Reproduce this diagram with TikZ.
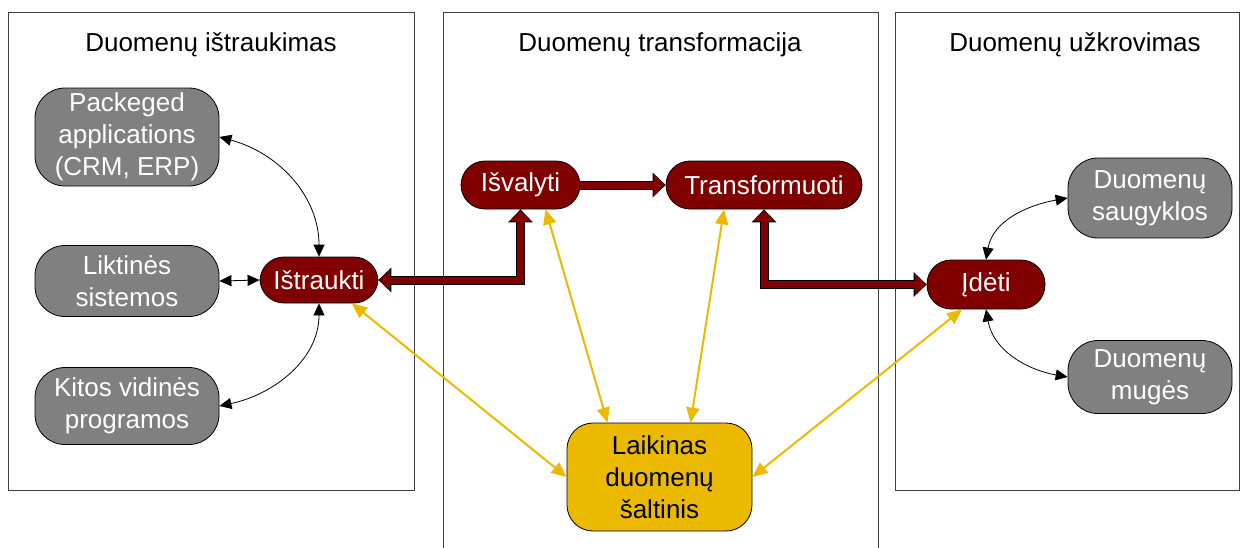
\documentclass[tikz,border=0pt]{standalone}
\usepackage{fontspec}
\setmainfont{Liberation Sans}
\usetikzlibrary{arrows.meta}
\definecolor{boxgray}{HTML}{808080}
\definecolor{maroonbox}{HTML}{800000}
\definecolor{ambertone}{HTML}{EBBA00}
\definecolor{panelline}{HTML}{404040}
\begin{document}
\begin{tikzpicture}[x=1pt,y=-1pt,
  txt/.style={font=\fontsize{26pt}{32pt}\selectfont, align=center, inner sep=0pt},
  panel/.style={draw=panelline, line width=1pt},
  source/.style={txt, draw=black, line width=0.8pt, fill=boxgray, text=white, rounded corners=30pt},
  stage/.style={txt, draw=black, line width=0.8pt, fill=maroonbox, text=white, rounded corners=24pt},
  stagebox/.style={txt, draw=black, line width=0.8pt, fill=ambertone, text=black, rounded corners=26pt},
  thin/.style={line width=0.8pt, {Triangle[width=11pt,length=12pt]}-{Triangle[width=11pt,length=12pt]}},
  amber/.style={draw=ambertone, line width=2pt, {Triangle[width=13pt,length=15pt]}-{Triangle[width=13pt,length=15pt]}},
  barout/.style={draw=black, line width=9pt, miter limit=10,
    {Triangle[width=25pt,length=13pt,line width=0pt]}-{Triangle[width=25pt,length=13pt,line width=0pt]}},
  barin/.style={draw=maroonbox, line width=7pt, miter limit=10, shorten >=1.3pt, shorten <=1.3pt,
    {Triangle[width=21pt,length=10.3pt,line width=0pt]}-{Triangle[width=21pt,length=10.3pt,line width=0pt]}},
  barouto/.style={draw=black, line width=9pt, -{Triangle[width=25pt,length=13pt,line width=0pt]}},
  barino/.style={draw=maroonbox, line width=7pt, shorten >=1.3pt, -{Triangle[width=21pt,length=10.3pt,line width=0pt]}},
]
\useasboundingbox (0,0) rectangle (1246,547);

% the three stage panels
\draw[panel] (8,12) rectangle (414,490);
\draw[panel] (443,560) -- (443,12) -- (878,12) -- (878,560);
\draw[panel] (895,12) rectangle (1239,490);

\node[txt] (t1) at (211,45) {Duomenų ištraukimas};
\node[txt] (t2) at (660,45) {Duomenų transformacija};
\node[txt] (t3) at (1075,45) {Duomenų užkrovimas};

% sources
\node[source, minimum width=184pt, minimum height=98pt] (pk) at (127,137) {Packeged\\applications\\(CRM, ERP)};
\node[source, minimum width=184pt, minimum height=71pt] (lt) at (127,281) {Liktinės\\sistemos};
\node[source, minimum width=184pt, minimum height=77pt] (kt) at (127,406) {Kitos vidinės\\programos};

% targets
\node[source, minimum width=164pt, minimum height=80pt] (sg) at (1150,198) {Duomenų\\saugyklos};
\node[source, minimum width=164pt, minimum height=73pt] (mg) at (1150,377) {Duomenų\\mugės};

% process steps
\node[stage, minimum width=118pt, minimum height=46pt] (ist) at (319,280) {Ištraukti};
\node[stage, minimum width=119pt, minimum height=48pt] (isv) at (520.5,185) {Išvalyti};
\node[stage, minimum width=196pt, minimum height=48pt] (tr) at (764,185) {Transformuoti};
\node[stage, minimum width=118pt, minimum height=49pt] (idt) at (986,284.5) {Įdėti};

% staging area
\node[stagebox, minimum width=185pt, minimum height=108pt] (lk) at (659.5,477) {Laikinas\\duomenų\\šaltinis};

% thin connectors
\draw[thin] (pk.east) to[out=-15, in=90] (ist.north);
\draw[thin] (lt.east) -- (ist.west);
\draw[thin] (kt.east) to[out=12, in=-90] (ist.south);
\draw[thin] (idt.north) to[out=80, in=190] (sg.west);
\draw[thin] (idt.south) to[out=-80, in=170] (mg.west);

% staging connectors
\draw[amber] ([xshift=33pt]ist.south) -- (lk.west);
\draw[amber] ([xshift=25pt]isv.south) -- ([xshift=-52pt]lk.north);
\draw[amber] ([xshift=-40pt]tr.south) -- ([xshift=31pt]lk.north);
\draw[amber] ([xshift=-24pt]idt.south) -- (lk.east);

% main data flow
\draw[barout] (ist.east) -- (isv.south |- ist.east) -- (isv.south);
\draw[barin]  (ist.east) -- (isv.south |- ist.east) -- (isv.south);
\draw[barouto] (isv.east) -- (tr.west);
\draw[barino]  (isv.east) -- (tr.west);
\draw[barout] (tr.south) -- (tr.south |- idt.west) -- (idt.west);
\draw[barin]  (tr.south) -- (tr.south |- idt.west) -- (idt.west);
\end{tikzpicture}
\end{document}
